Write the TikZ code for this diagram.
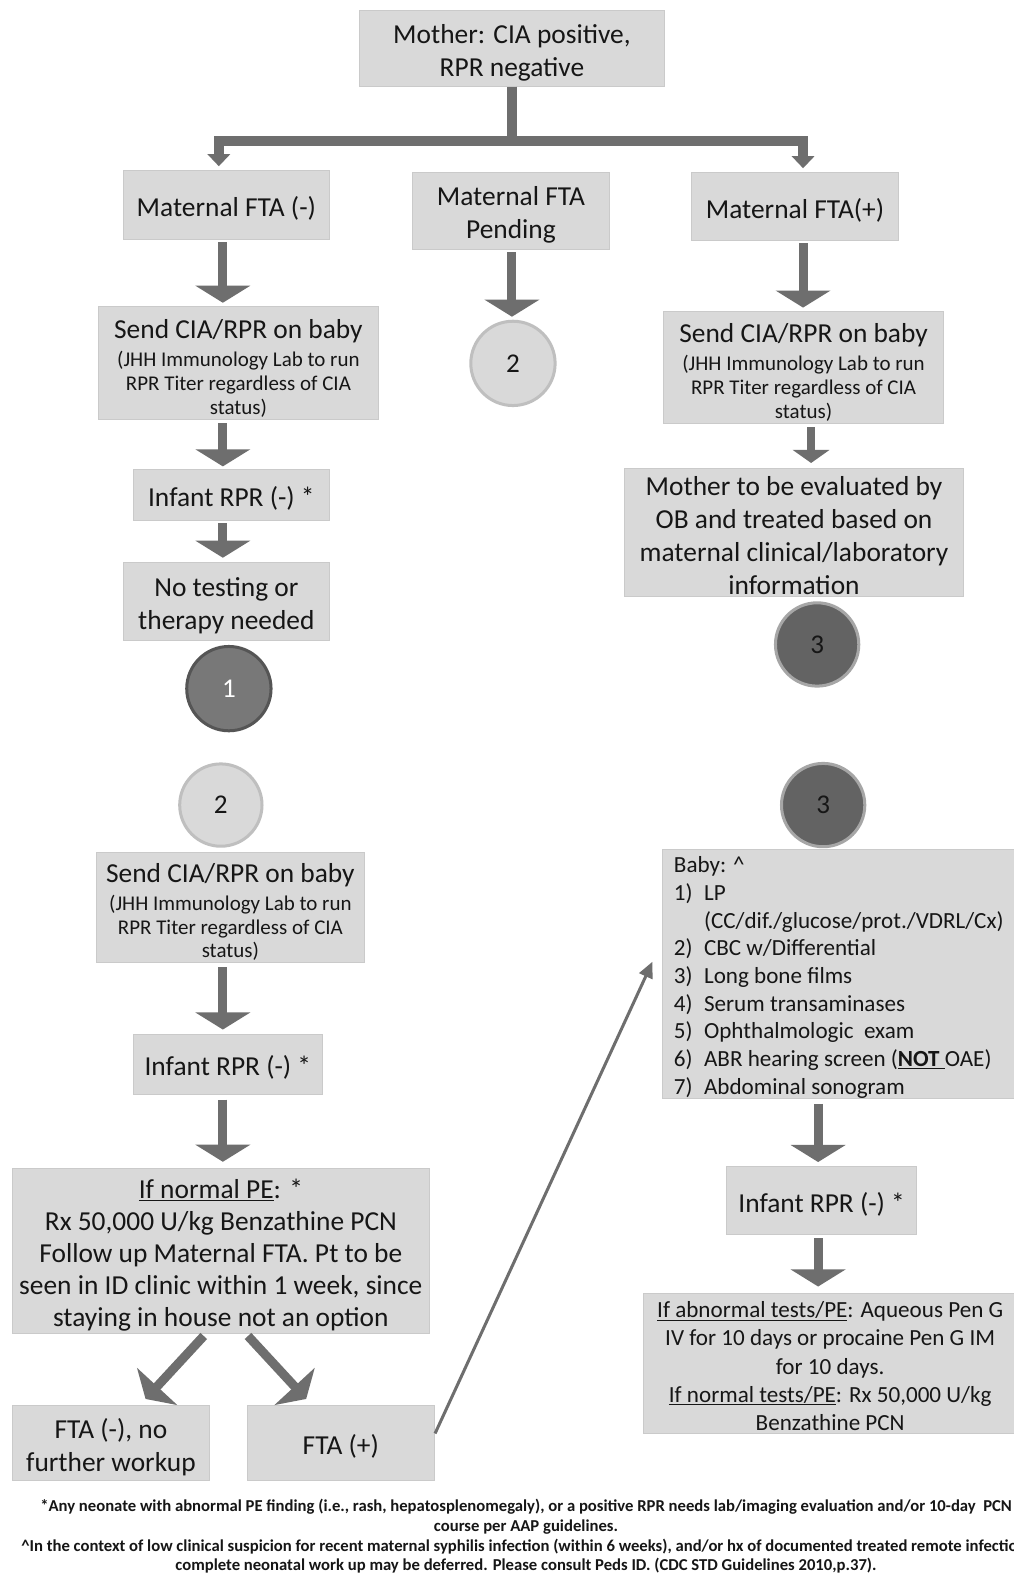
\documentclass[tikz,border=0pt]{standalone}
\usepackage{fontspec}
\setmainfont{Carlito}
\usetikzlibrary{arrows.meta,calc}
\definecolor{boxfill}{RGB}{217,217,217}
\definecolor{boxline}{RGB}{202,202,202}
\definecolor{arr}{RGB}{110,110,110}
\definecolor{txt}{RGB}{22,22,22}
\definecolor{cdark}{RGB}{120,120,120}
\definecolor{cdarkline}{RGB}{85,85,85}
\definecolor{clightline}{RGB}{191,191,191}
\definecolor{cthree}{RGB}{99,99,99}
\definecolor{cthreeline}{RGB}{166,166,166}
\newcommand{\sm}{\fontsize{20.9}{24}\selectfont}
\newcommand{\dn}[1][1.02em]{\rule{0pt}{#1}}
\tikzset{
  box/.style={fill=boxfill, draw=boxline, line width=0.8pt, inner sep=2pt, align=center,
    text=txt, font=\fontsize{27.3}{33}\selectfont,
    execute at begin node={\rule{0pt}{1em}}},
  listbox/.style={box, font=\fontsize{23}{28}\selectfont},
  bigarrow/.style={draw=arr, line width=9pt, shorten <=3pt, -{Triangle[width=54pt,length=17pt]}},
  smallarrow/.style={draw=arr, line width=8pt, shorten <=3pt, -{Triangle[width=36pt,length=13pt]}},
  treearrow/.style={draw=arr, line width=10pt, -{Triangle[width=22pt,length=12pt]}},
  thinarrow/.style={draw=arr, line width=3pt, -{Triangle[width=14pt,length=16pt]}},
  numdark/.style={circle, minimum size=84pt, inner sep=0pt, fill=cdark, draw=cdarkline, line width=3pt,
    text=white, font=\fontsize{27}{33}\selectfont},
  numlight/.style={circle, minimum size=82pt, inner sep=0pt, fill=boxfill, draw=clightline, line width=3pt,
    text=txt, font=\fontsize{27}{33}\selectfont},
  numthree/.style={circle, minimum size=83pt, inner sep=0pt, fill=cthree, draw=cthreeline, line width=3pt,
    text=txt, font=\fontsize{27}{33}\selectfont},
  foot/.style={align=center, text=txt, font=\fontsize{16.6}{19.2}\selectfont\bfseries, inner sep=0pt},
}
\begin{document}
\begin{tikzpicture}[x=1pt,y=-1pt]
\clip (0,0) rectangle (1010,1568);
\fill[white] (0,0) rectangle (1010,1568);
\coordinate (colL) at (222,0);
\coordinate (colM) at (510,0);
\coordinate (colR) at (800,0);
\coordinate (colRt) at (808,0);
\coordinate (colB) at (815,0);
\coordinate (bar) at (0,140);
\coordinate (tt) at (650,958);

% top level
\node[box, minimum width=304pt, minimum height=76pt] (top) at (510,48) {\dn Mother: CIA positive,\\RPR negative};
\node[box, minimum width=205pt, minimum height=68pt] (fneg) at (225.5,204) {Maternal FTA (-)};
\node[box, minimum width=196pt, minimum height=76pt] (fpend) at (509,210) {\dn Maternal FTA\\Pending};
\node[box, minimum width=206pt, minimum height=67pt] (fpos) at (792,205.5) {Maternal FTA(+)};

% left column
\node[box, minimum width=279pt, minimum height=113pt] (sendL) at (237.5,361.5)
  {\dn[1.08em]Send CIA/RPR on baby\\[-5pt]{\sm (JHH Immunology Lab to run}\\[-9pt]{\sm RPR Titer regardless of CIA}\\[-9pt]{\sm status)}};
\node[box, minimum width=195pt, minimum height=50pt] (infL1) at (230.5,493) {Infant RPR (-) *};
\node[box, minimum width=205pt, minimum height=78pt] (notest) at (225.5,599) {\dn No testing or\\therapy needed};
\node[numdark] (c1) at (228,686) {1};

% middle
\node[numlight, minimum size=84pt] (c2a) at (511,362) {2};

% right column
\node[box, minimum width=279pt, minimum height=112pt] (sendR) at (800.5,366)
  {\dn[1.08em]Send CIA/RPR on baby\\[-5pt]{\sm (JHH Immunology Lab to run}\\[-9pt]{\sm RPR Titer regardless of CIA}\\[-9pt]{\sm status)}};
\node[box, minimum width=338pt, minimum height=125pt] (meval) at (791,530.5)
  {\dn[0.9em]Mother to be evaluated by\\OB and treated based on\\maternal clinical/laboratory\\information};
\node[numthree] (c3a) at (814,642) {3};

% lower left
\node[numlight] (c2b) at (220,802) {2};
\node[box, minimum width=267pt, minimum height=108pt] (sendL2) at (229.5,904)
  {\dn Send CIA/RPR on baby\\[-5pt]{\sm (JHH Immunology Lab to run}\\[-10pt]{\sm RPR Titer regardless of CIA}\\[-10pt]{\sm status)}};
\node[box, minimum width=188pt, minimum height=60pt] (infL2) at (227,1060) {Infant RPR (-) *};
\node[box, minimum width=416pt, minimum height=162pt] (normPE) at (220,1246)
  {\dn\underline{If normal PE}: *\\[-1pt]Rx 50,000 U/kg Benzathine PCN\\[-1pt]Follow up Maternal FTA. Pt to be\\[-1pt]seen in ID clinic within 1 week, since\\[-1pt]staying in house not an option};
\node[box, minimum width=197pt, minimum height=75pt] (ftaneg) at (110.5,1437.5) {\dn FTA (-), no\\further workup};
\node[box, minimum width=187pt, minimum height=75pt] (ftapos) at (339.5,1437.5) {FTA (+)};

% lower right
\node[numthree] (c3b) at (820,802) {3};
\node[listbox, font=\fontsize{23}{27.6}\selectfont, align=flush left, anchor=north west, text width=356pt,
  inner xsep=12pt, inner ysep=0pt, minimum height=244pt, execute at begin node={}] (baby) at (659,846)
  {Baby: \textasciicircum\\
   \makebox[30pt][l]{1)}LP\\
   \hspace*{30pt}(CC/dif./glucose/prot./VDRL/Cx)\\
   \makebox[30pt][l]{2)}CBC w/Differential\\
   \makebox[30pt][l]{3)}Long bone films\\
   \makebox[30pt][l]{4)}Serum transaminases\\
   \makebox[30pt][l]{5)}Ophthalmologic\ \ exam\\
   \makebox[30pt][l]{6)}ABR hearing screen (\underline{\textbf{NOT}\ }OAE)\\
   \makebox[30pt][l]{7)}Abdominal sonogram};
\node[box, minimum width=189pt, minimum height=68pt] (infR) at (818.5,1196) {Infant RPR (-) *};
\node[listbox, minimum width=372pt, minimum height=140pt] (last) at (827,1358)
  {\dn[0.95em]\underline{If abnormal tests/PE}: Aqueous Pen G\\IV for 10 days or procaine Pen G IM\\for 10 days.\\\underline{If normal tests/PE}: Rx 50,000 U/kg\\Benzathine PCN};

% connectors
\draw[treearrow] (top.south) -- (top.south |- bar) -| ([xshift=-7.5pt,yshift=4pt]fneg.north);
\draw[treearrow] (top.south) -- (top.south |- bar) -| ([xshift=8pt,yshift=4pt]fpos.north);

\draw[bigarrow] (fneg.south -| colL) -- ([yshift=3pt]sendL.north -| colL);
\draw[bigarrow] (fpend.south -| colM) -- ([yshift=3pt]c2a.north -| colM);
\draw[bigarrow] (fpos.south -| colR) -- ([yshift=3pt]sendR.north -| colR);
\draw[bigarrow] (sendL.south -| colL) -- ([yshift=3pt]infL1.north -| colL);
\draw[smallarrow] (sendR.south -| colRt) -- ([yshift=5pt]meval.north -| colRt);
\draw[bigarrow] (infL1.south -| colL) -- ([yshift=4pt]notest.north -| colL);

\draw[bigarrow] ([yshift=-2pt]sendL2.south -| colL) -- ([yshift=4pt]infL2.north -| colL);
\draw[bigarrow] ([yshift=-2pt]infL2.south -| colL) -- ([yshift=6pt]normPE.north -| colL);
\draw[bigarrow] ([xshift=-15pt]normPE.south) -- ([xshift=34.5pt,yshift=6pt]ftaneg.north);
\draw[bigarrow] ([xshift=25pt]normPE.south) -- ([xshift=-34.5pt,yshift=6pt]ftapos.north);
\draw[thinarrow] ([yshift=9.5pt]ftapos.east) -- (tt);

\draw[bigarrow] ([yshift=-2pt]baby.south -| colB) -- ([yshift=4pt]infR.north -| colB);
\draw[bigarrow] (infR.south -| colB) -- ([yshift=6pt]last.north -| colB);

% footnotes
\node[foot] (fn1) at (524,1511) {*Any neonate with abnormal PE finding (i.e., rash, hepatosplenomegaly), or a positive RPR needs lab/imaging evaluation and/or 10-day\ \ PCN\\course per AAP guidelines.};
\node[foot] (fn2) at (524,1550) {\textasciicircum In the context of low clinical suspicion for recent maternal syphilis infection (within 6 weeks), and/or hx of documented treated remote infection,\\complete neonatal work up may be deferred. Please consult Peds ID. (CDC STD Guidelines 2010,p.37).};
\end{tikzpicture}
\end{document}
